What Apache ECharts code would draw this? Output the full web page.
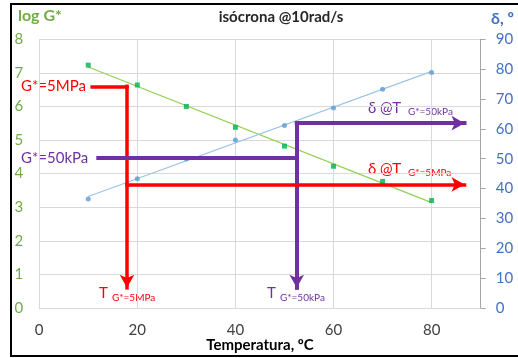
<!DOCTYPE html>
<html>
<head>
<meta charset="utf-8">
<script src="https://cdn.jsdelivr.net/npm/echarts@6/dist/echarts.min.js"></script>
<style>
html,body{margin:0;padding:0;background:#fff;}
#c{width:518px;height:358px;}
</style>
</head>
<body>
<div id="c"></div>
<script>
// ---- data ----
const temps = [10, 20, 30, 40, 50, 60, 70, 80];            // Temperatura, ºC
const logG  = [7.23, 6.64, 6.0, 5.38, 4.82, 4.22, 3.77, 3.2]; // log G*
const delta = [36.5, 43.3, 49.9, 56.3, 61.1, 67.0, 73.3, 78.9]; // δ, º

// annotation values (isochrone readings)
const logG_5MPa  = 6.6;   // G* = 5 MPa
const logG_50kPa = 4.46;  // G* = 50 kPa
const T_5MPa  = 17.9;     // T at G* = 5 MPa
const T_50kPa = 52.5;     // T at G* = 50 kPa
const d_5MPa  = 41.4;     // δ at T(G*=5MPa)
const d_50kPa = 61.9;     // δ at T(G*=50kPa)

const FONT = 'Lato';

function linfit(xs, ys) {
  const n = xs.length;
  const mx = xs.reduce((a, b) => a + b, 0) / n;
  const my = ys.reduce((a, b) => a + b, 0) / n;
  let sxy = 0, sxx = 0;
  for (let i = 0; i < n; i++) { sxy += (xs[i] - mx) * (ys[i] - my); sxx += (xs[i] - mx) ** 2; }
  const b = sxy / sxx, a = my - b * mx;
  const x0 = xs[0], x1 = xs[n - 1];
  return [[x0, a + b * x0], [x1, a + b * x1]];
}

const chart = echarts.init(document.getElementById('c'), null, {renderer: 'canvas'});

const RED = '#FF0000', PURPLE = '#7030A0';
function seg(p0, p1, arrow) {
  return [
    {coord: p0, symbol: 'none'},
    {coord: p1, symbol: arrow ? 'arrow' : 'none', symbolSize: [11, 13]}
  ];
}

const option = {
  animation: false,
  textStyle: {fontFamily: FONT},
  grid: {left: 39.2, right: 37.3, top: 39.3, bottom: 50, containLabel: false, outerBoundsMode: 'none'},
  xAxis: {
    type: 'value', min: 0, max: 90, interval: 20,
    name: 'Temperatura, ºC', nameLocation: 'middle', nameGap: 30, nameMoveOverlap: false,
    nameTextStyle: {fontFamily: FONT, fontWeight: 'bold', fontSize: 15, color: '#000'},
    axisLine: {show: true, lineStyle: {color: '#d9d9d9'}},
    axisTick: {show: false},
    axisLabel: {fontFamily: FONT, fontSize: 15, color: '#404040', margin: 15, showMaxLabel: false,
      formatter: v => (v === 90 ? '' : String(v))},
    splitLine: {show: true, lineStyle: {color: '#d9d9d9', width: 1}}
  },
  yAxis: [
    {
      type: 'value', min: 0, max: 8, interval: 1,
      axisLine: {show: false}, axisTick: {show: false},
      axisLabel: {fontFamily: FONT, fontSize: 15, color: '#70AD47', margin: 16},
      splitLine: {show: true, lineStyle: {color: '#d9d9d9', width: 1}}
    },
    {
      type: 'value', min: 0, max: 90, interval: 10, position: 'right',
      axisLine: {show: true, lineStyle: {color: '#a6a6a6'}},
      axisTick: {show: true, length: 5, lineStyle: {color: '#a6a6a6'}},
      axisLabel: {fontFamily: FONT, fontSize: 15, color: '#4472C4', margin: 15},
      splitLine: {show: false}
    }
  ],
  series: [
    {
      type: 'line', xAxisIndex: 0, yAxisIndex: 0, data: linfit(temps, logG),
      symbol: 'none', lineStyle: {color: '#92D050', width: 1.2}, z: 2, silent: true
    },
    {
      type: 'line', xAxisIndex: 0, yAxisIndex: 1, data: linfit(temps, delta),
      symbol: 'none', lineStyle: {color: '#9DC3E6', width: 1.2}, z: 2, silent: true
    },
    {
      type: 'scatter', xAxisIndex: 0, yAxisIndex: 0,
      data: temps.map((t, i) => [t, logG[i]]),
      symbol: 'rect', symbolSize: 5, itemStyle: {color: '#00B050'}, z: 3, silent: true
    },
    {
      type: 'scatter', xAxisIndex: 0, yAxisIndex: 1,
      data: temps.map((t, i) => [t, delta[i]]),
      symbol: 'circle', symbolSize: 5, itemStyle: {color: '#5B9BD5'}, z: 3, silent: true
    },
    // annotations on left axis
    {
      type: 'line', xAxisIndex: 0, yAxisIndex: 0, data: [], z: 5,
      markLine: {
        silent: true, animation: false, label: {show: false},
        lineStyle: {type: 'solid', cap: 'square'},
        data: [
          seg([10.8, logG_5MPa], [T_5MPa, logG_5MPa], false),
          seg([T_5MPa, logG_5MPa], [T_5MPa, 0.6], true),
          seg([12.05, logG_50kPa], [T_50kPa, logG_50kPa], false),
          seg([T_50kPa, 5.5], [T_50kPa, 0.6], true)
        ].map((d, i) => {
          const col = i < 2 ? RED : PURPLE;
          d[0].lineStyle = {color: col, width: i < 2 ? 3.5 : 4, type: 'solid'};
          d[1].itemStyle = {color: col};
          return d;
        })
      }
    },
    // annotations on right axis
    {
      type: 'line', xAxisIndex: 0, yAxisIndex: 1, data: [], z: 5,
      markLine: {
        silent: true, animation: false, label: {show: false},
        lineStyle: {type: 'solid', cap: 'square'},
        data: [
          seg([T_5MPa, d_5MPa], [86.7, d_5MPa], true),
          seg([T_50kPa, d_50kPa], [86.7, d_50kPa], true)
        ].map((d, i) => {
          const col = i === 0 ? RED : PURPLE;
          d[0].lineStyle = {color: col, width: i === 0 ? 3.5 : 4, type: 'solid'};
          d[1].itemStyle = {color: col};
          return d;
        })
      }
    }
  ],
  graphic: [
    {type: 'rect', shape: {x: 11, y: 4, width: 530, height: 352}, style: {fill: 'none', stroke: '#000', lineWidth: 2}, silent: true},
    {type: 'text', x: 281, y: 17, style: {text: 'isócrona @10rad/s', font: 'bold 15px ' + FONT, fill: '#262626', textAlign: 'center', textVerticalAlign: 'middle'}},
    {type: 'text', x: 18, y: 16, style: {text: 'log G*', font: 'bold 16px ' + FONT, fill: '#70AD47', textAlign: 'left', textVerticalAlign: 'middle'}},
    {type: 'text', x: 491, y: 19, style: {text: 'δ, º', font: 'bold 16px ' + FONT, fill: '#4472C4', textAlign: 'left', textVerticalAlign: 'middle'}},
    {type: 'text', x: 21, y: 86, style: {text: 'G*=5MPa', font: '15px ' + FONT, fill: RED, textAlign: 'left', textVerticalAlign: 'middle'}},
    {type: 'text', x: 21, y: 158, style: {text: 'G*=50kPa', font: '15px ' + FONT, fill: PURPLE, textAlign: 'left', textVerticalAlign: 'middle'}},
    {type: 'text', x: 368, y: 108, style: {text: 'δ @T', font: '15px ' + FONT, fill: PURPLE, textAlign: 'left', textVerticalAlign: 'middle'}},
    {type: 'text', x: 408, y: 112, style: {text: 'G*=50kPa', font: '10px ' + FONT, fill: PURPLE, textAlign: 'left', textVerticalAlign: 'middle'}},
    {type: 'text', x: 368, y: 169, style: {text: 'δ @T', font: '15px ' + FONT, fill: RED, textAlign: 'left', textVerticalAlign: 'middle'}},
    {type: 'text', x: 408, y: 173, style: {text: 'G*=5MPa', font: '10px ' + FONT, fill: RED, textAlign: 'left', textVerticalAlign: 'middle'}},
    {type: 'text', x: 99, y: 293, style: {text: 'T', font: '15px ' + FONT, fill: RED, textAlign: 'left', textVerticalAlign: 'middle'}},
    {type: 'text', x: 112, y: 298, style: {text: 'G*=5MPa', font: '10px ' + FONT, fill: RED, textAlign: 'left', textVerticalAlign: 'middle'}},
    {type: 'text', x: 267, y: 293, style: {text: 'T', font: '15px ' + FONT, fill: PURPLE, textAlign: 'left', textVerticalAlign: 'middle'}},
    {type: 'text', x: 280, y: 298, style: {text: 'G*=50kPa', font: '10px ' + FONT, fill: PURPLE, textAlign: 'left', textVerticalAlign: 'middle'}}
  ]
};
chart.setOption(option);
</script>
</body>
</html>
